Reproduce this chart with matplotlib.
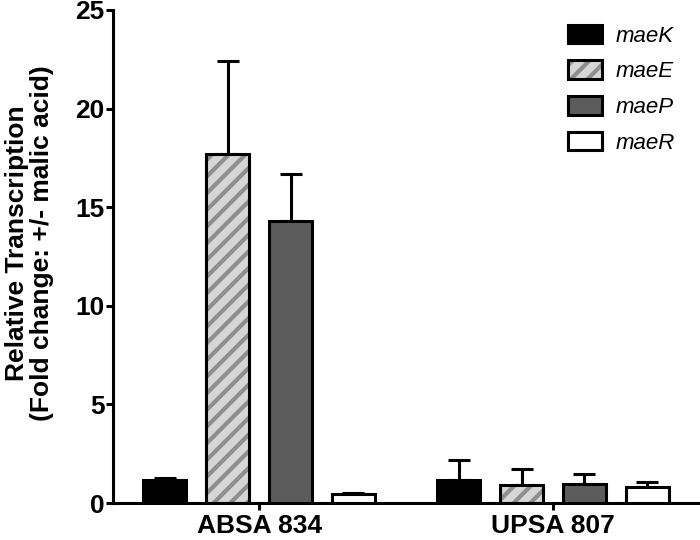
import matplotlib
matplotlib.use("Agg")
import matplotlib.pyplot as plt
import numpy as np
from matplotlib.patches import Patch
from matplotlib.legend_handler import HandlerTuple

plt.rcParams['font.family'] = ['Liberation Sans', 'DejaVu Sans']
plt.rcParams['hatch.linewidth'] = 3.0

groups = ["ABSA 834", "UPSA 807"]
genes = ["maeK", "maeE", "maeP", "maeR"]
values = {
    "maeK": [1.15, 1.17],
    "maeE": [17.7, 0.93],
    "maeP": [14.3, 0.98],
    "maeR": [0.45, 0.83],
}
errors = {
    "maeK": [0.12, 1.0],
    "maeE": [4.7, 0.8],
    "maeP": [2.4, 0.5],
    "maeR": [0.05, 0.25],
}
yticks = [0, 5, 10, 15, 20, 25]

faces = {"maeK": "black", "maeE": "#d6d6d6", "maeP": "#5c5c5c", "maeR": "white"}
hatch_col = "#8e8e8e"

fig = plt.figure(figsize=(7, 5.4), dpi=100)
ax = fig.add_axes([0.1614, 0.0685, 0.8386, 0.913])

x = np.arange(len(groups))
step = 0.214
width = 0.146
for i, g in enumerate(genes):
    pos = x + (i - 1.5) * step
    if g == "maeE":
        ax.bar(pos, values[g], width, color=faces[g], edgecolor=hatch_col,
               hatch="//", linewidth=0, zorder=2)
        ax.bar(pos, values[g], width, facecolor="none", edgecolor="black",
               linewidth=2.2, zorder=3)
    else:
        ax.bar(pos, values[g], width, color=faces[g], edgecolor="black",
               linewidth=2.2, zorder=3)
    ax.errorbar(pos, values[g], yerr=[np.zeros(len(groups)), errors[g]],
                fmt="none", ecolor="black", elinewidth=2.2, capsize=8,
                capthick=2.2, zorder=1)

ax.set_xlim(-0.497, 1.5)
ax.set_ylim(0, 25)
ax.set_yticks(yticks)
ax.set_yticklabels([str(t) for t in yticks], fontsize=19, fontweight="bold")
ax.set_xticks(x)
ax.set_xticklabels(groups, fontsize=19, fontweight="bold")
ax.spines["top"].set_visible(False)
ax.spines["right"].set_visible(False)
ax.spines["left"].set_linewidth(2.2)
ax.spines["bottom"].set_linewidth(2.2)
ax.tick_params(axis="y", direction="out", length=5, width=2.2, pad=1)
ax.tick_params(axis="x", direction="out", length=5, width=2.2, pad=3)
ax.set_ylabel("Relative Transcription\n(Fold change: +/- malic acid)",
              fontsize=19, fontweight="bold", linespacing=1.08)
ax.yaxis.set_label_coords(-0.1, 0.527)

handles = []
for g in genes:
    if g == "maeE":
        handles.append((Patch(facecolor=faces[g], edgecolor=hatch_col, hatch="//", linewidth=0),
                        Patch(facecolor="none", edgecolor="black", linewidth=2.2)))
    else:
        handles.append(Patch(facecolor=faces[g], edgecolor="black", linewidth=2.2))
leg = ax.legend(handles, genes, loc="upper left", frameon=False,
                prop={"style": "italic", "size": 16},
                handlelength=1.53, handleheight=0.9, labelspacing=0.62,
                handletextpad=0.6, borderpad=0, borderaxespad=0,
                bbox_to_anchor=(0.775, 0.97),
                handler_map={tuple: HandlerTuple(ndivide=1, pad=0)})

fig.savefig("out.png", dpi=100)
